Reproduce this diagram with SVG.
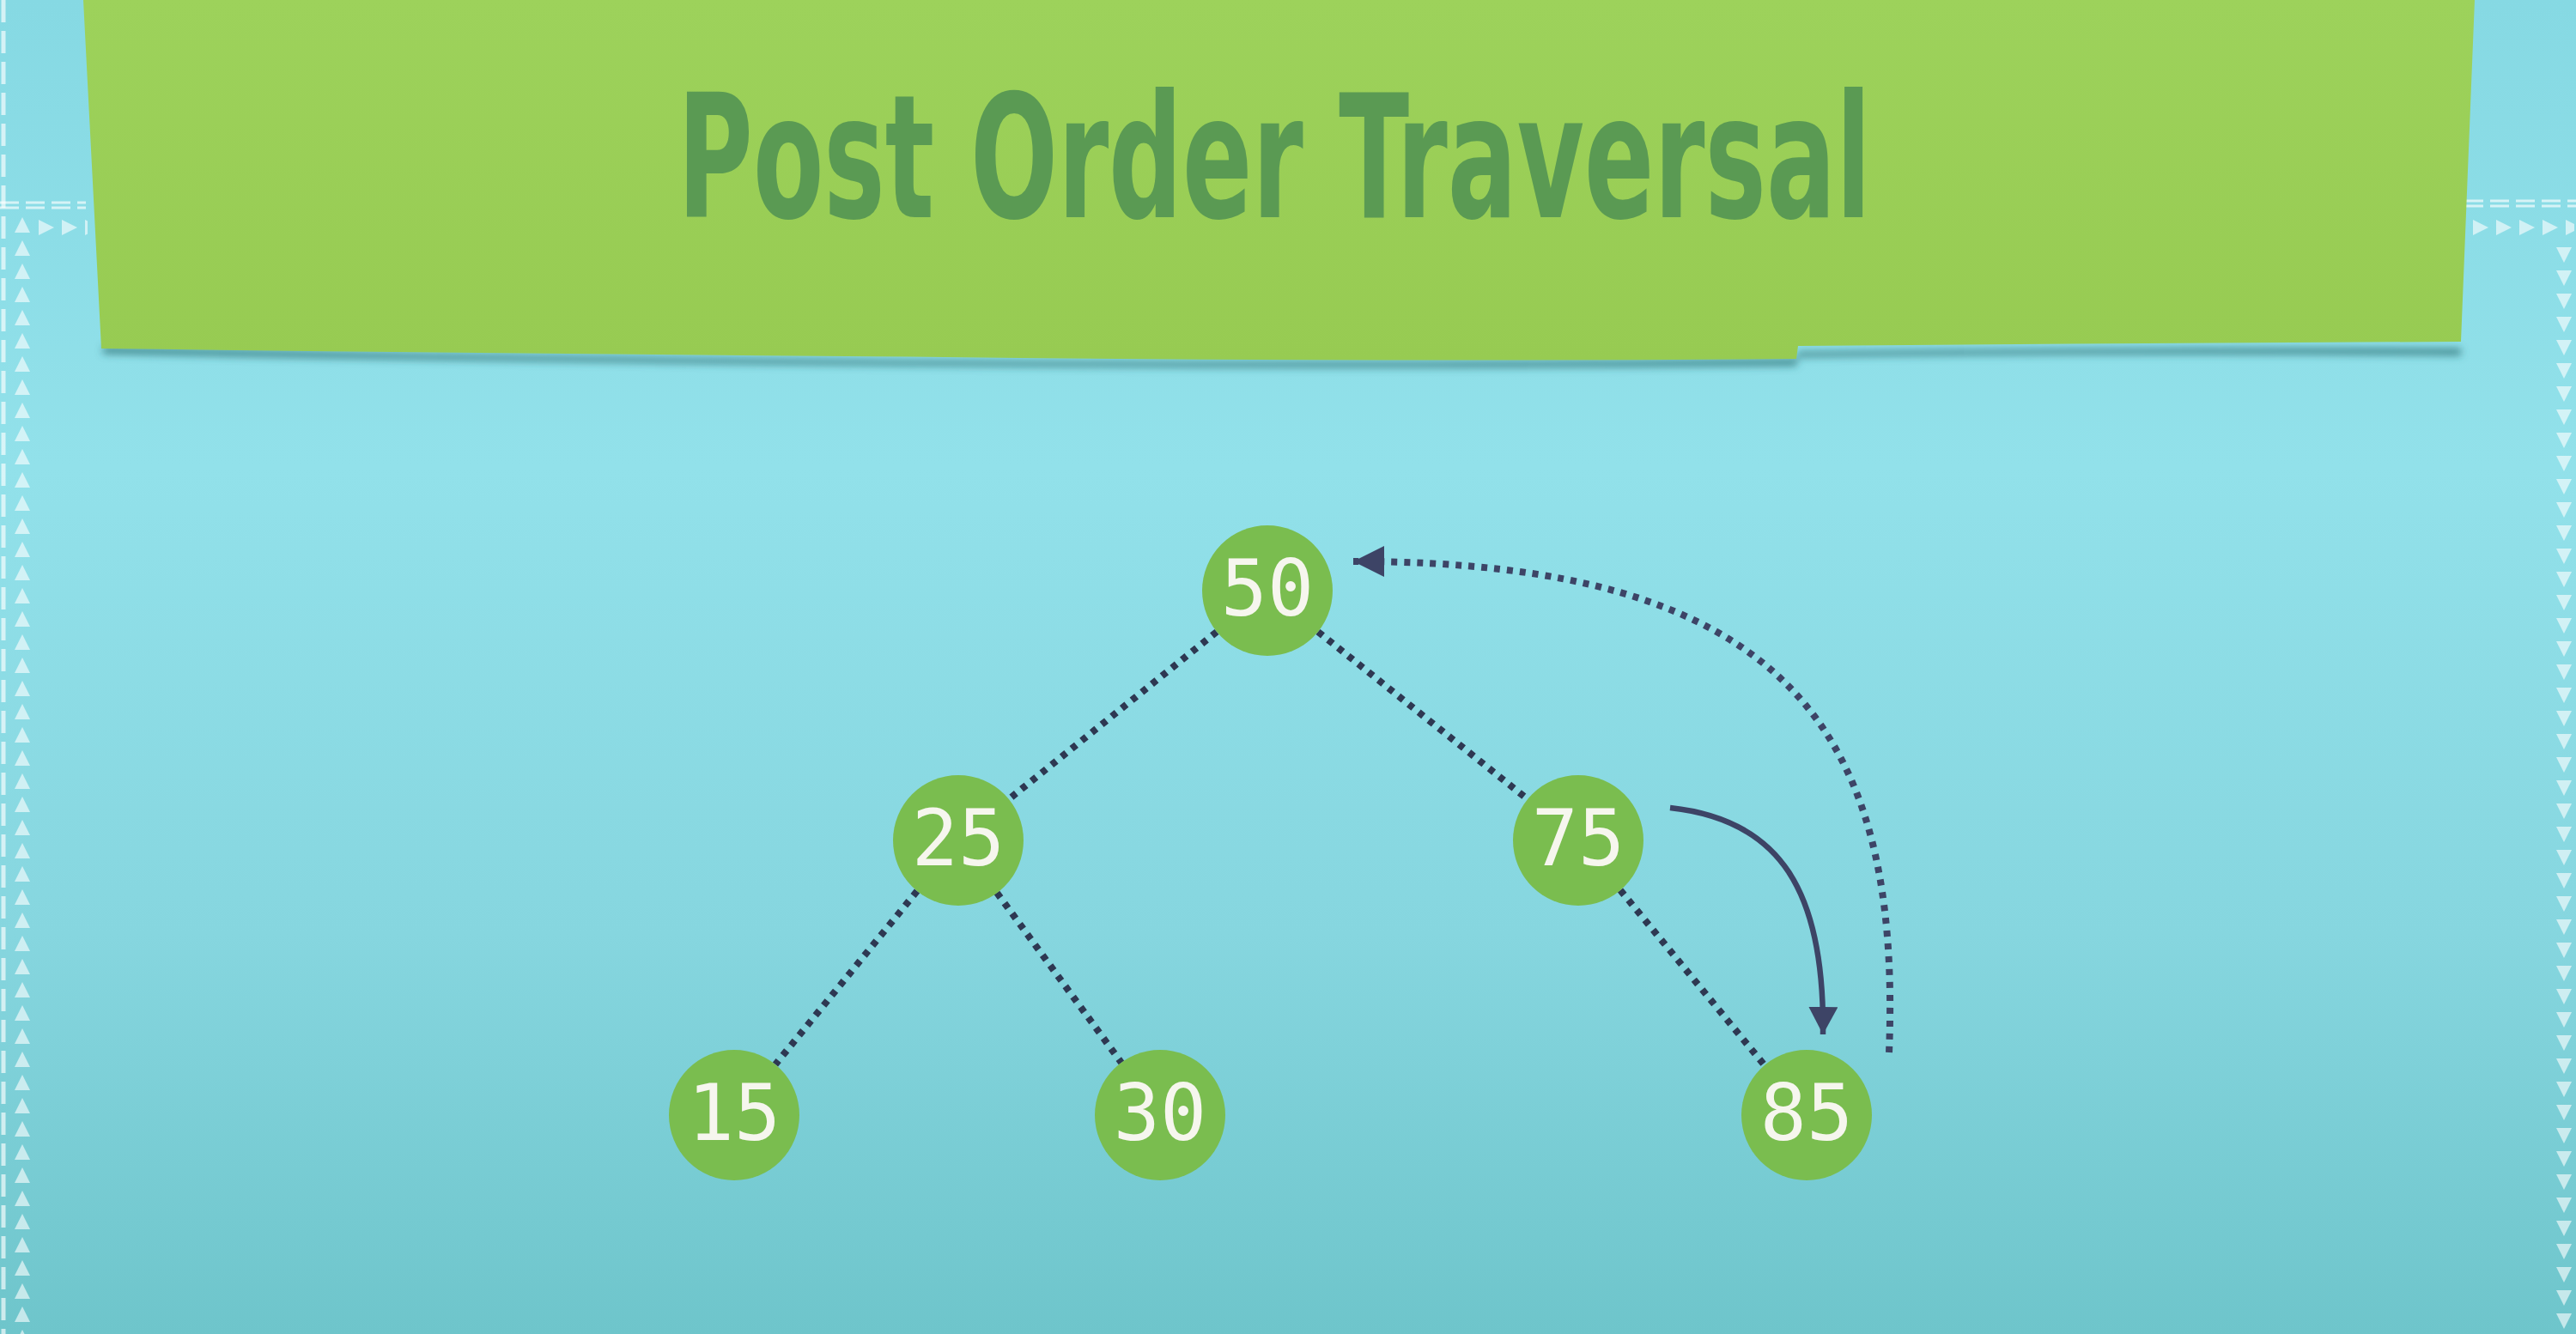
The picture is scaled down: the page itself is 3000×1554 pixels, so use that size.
<svg xmlns="http://www.w3.org/2000/svg" width="3000" height="1554" viewBox="0 0 3000 1554">
<defs>
<linearGradient id="bg" x1="0" y1="0" x2="0" y2="1">
<stop offset="0" stop-color="#86d9e3"/>
<stop offset="0.35" stop-color="#92e1ea"/>
<stop offset="0.7" stop-color="#86d6df"/>
<stop offset="1" stop-color="#6ec5cb"/>
</linearGradient>
<linearGradient id="banner" x1="0" y1="0" x2="0" y2="1">
<stop offset="0" stop-color="#9dd25b"/>
<stop offset="1" stop-color="#97cb52"/>
</linearGradient>
<filter id="blur" x="-5%" y="-100%" width="110%" height="300%"><feGaussianBlur stdDeviation="5"/></filter>
<pattern id="triUp" patternUnits="userSpaceOnUse" x="16" y="250" width="20" height="27">
<path d="M10,3 L19,21 L1,21 Z" fill="#ffffff" fill-opacity="0.6"/>
</pattern>
<pattern id="triDown" patternUnits="userSpaceOnUse" x="2976" y="285" width="20" height="27">
<path d="M1,3 L19,3 L10,21 Z" fill="#ffffff" fill-opacity="0.6"/>
</pattern>
<pattern id="triRight" patternUnits="userSpaceOnUse" x="42" y="255" width="27" height="20">
<path d="M3,1 L21,10 L3,19 Z" fill="#ffffff" fill-opacity="0.6"/>
</pattern>
<marker id="ahSolid" markerUnits="userSpaceOnUse" markerWidth="36" markerHeight="36" refX="32" refY="17" orient="auto">
<path d="M0,0 L32,17 L0,34 Z" fill="#3d4466"/>
</marker>
<marker id="ahDot" markerUnits="userSpaceOnUse" markerWidth="40" markerHeight="40" refX="36" refY="18" orient="auto">
<path d="M0,0 L36,18 L0,36 Z" fill="#3d4466"/>
</marker>
</defs>
<style>
.node circle { fill: #7abd4f; }
.node text { font-family: "DejaVu Sans Mono", "Liberation Mono", monospace; font-size: 90px; fill: #f6f6ee; text-anchor: middle; }
.edge { fill: none; stroke: #2e3852; stroke-width: 8; stroke-dasharray: 7 8; }
.dash { stroke: #ffffff; stroke-opacity: 0.65; fill: none; }
</style>

<!-- background -->
<rect x="0" y="0" width="3000" height="1554" fill="url(#bg)"/>

<!-- border decorations -->
<g id="border">
<line class="dash" x1="4" y1="0" x2="4" y2="1554" stroke-width="5" stroke-dasharray="26 10"/>
<line class="dash" x1="0" y1="236" x2="100" y2="236" stroke-width="3" stroke-dasharray="22 8"/>
<line class="dash" x1="0" y1="242" x2="100" y2="242" stroke-width="3" stroke-dasharray="22 8"/>
<line class="dash" x1="2870" y1="234" x2="3000" y2="234" stroke-width="3" stroke-dasharray="22 8"/>
<line class="dash" x1="2870" y1="240" x2="3000" y2="240" stroke-width="3" stroke-dasharray="22 8"/>
<rect x="16" y="250" width="20" height="1304" fill="url(#triUp)"/>
<rect x="42" y="255" width="60" height="20" fill="url(#triRight)"/>
<rect x="2870" y="255" width="128" height="20" fill="url(#triRight)"/>
<rect x="2976" y="285" width="20" height="1269" fill="url(#triDown)"/>
</g>

<!-- title banner -->
<g id="title-banner">
<path d="M120,404 Q600,416 1100,420 Q1600,424 2092,418 L2094,410 Q2480,404 2866,406 L2866,414 Q2480,410 2094,416 L2092,426 Q1600,430 1100,426 Q600,422 120,412 Z" fill="#2a6a6c" fill-opacity="0.75" filter="url(#blur)"/>
<path d="M97,0 L2882,0 L2866,398 Q2480,400 2094,403 L2092,418 Q1600,422 1100,416 Q600,412 118,406 Z" fill="url(#banner)"/>
<text x="1484" y="253" font-family="'DejaVu Sans Condensed', 'DejaVu Sans', sans-serif" font-stretch="condensed" font-weight="bold" font-size="200" fill="#5a9a53" text-anchor="middle" textLength="1390" lengthAdjust="spacingAndGlyphs">Post Order Traversal</text>
</g>

<!-- connectors -->
<g id="connectors">
<line class="edge" x1="1417" y1="736" x2="1175" y2="931"/>
<line class="edge" x1="1535" y1="736" x2="1779" y2="931"/>
<line class="edge" x1="1068" y1="1038" x2="903" y2="1240"/>
<line class="edge" x1="1161" y1="1040" x2="1306" y2="1238"/>
<line class="edge" x1="1887" y1="1037" x2="2055" y2="1241"/>
<path d="M1945,941 C2075,955 2125,1040 2123,1205" fill="none" stroke="#3d4466" stroke-width="6.5" marker-end="url(#ahSolid)"/>
<path d="M2200,1226 C2215,850 2080,654 1576,654" fill="none" stroke="#3d4466" stroke-width="8" stroke-dasharray="7 8" marker-end="url(#ahDot)"/>
</g>

<!-- nodes -->
<g id="node-50" class="node"><circle cx="1476" cy="688" r="76"/><text x="1476" y="717">50</text></g>
<g id="node-25" class="node"><circle cx="1116" cy="979" r="76"/><text x="1116" y="1008">25</text></g>
<g id="node-75" class="node"><circle cx="1838" cy="979" r="76"/><text x="1838" y="1008">75</text></g>
<g id="node-15" class="node"><circle cx="855" cy="1299" r="76"/><text x="855" y="1328">15</text></g>
<g id="node-30" class="node"><circle cx="1351" cy="1299" r="76"/><text x="1351" y="1328">30</text></g>
<g id="node-85" class="node"><circle cx="2104" cy="1299" r="76"/><text x="2104" y="1328">85</text></g>
</svg>
